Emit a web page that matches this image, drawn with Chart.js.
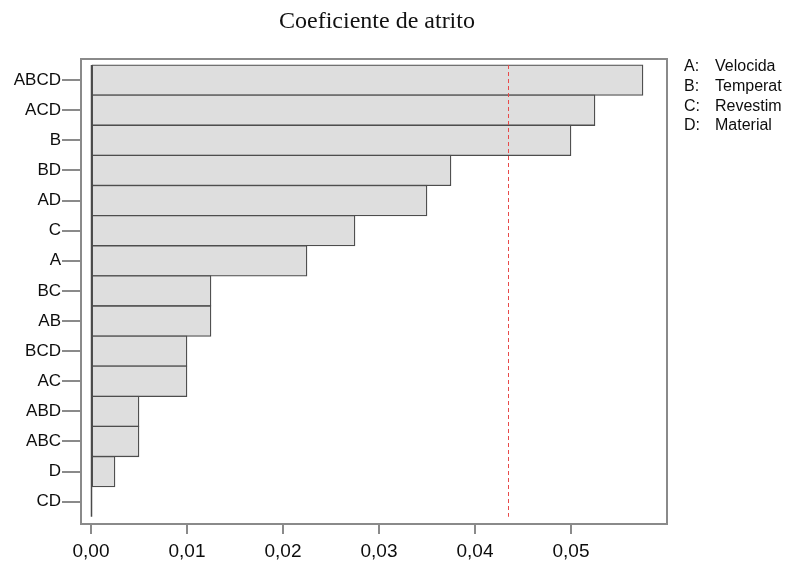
<!DOCTYPE html>
<html>
<head>
<meta charset="utf-8">
<script src="https://cdn.jsdelivr.net/npm/chart.js@4/dist/chart.umd.min.js"></script>
<style>
  html, body { margin: 0; padding: 0; background: #ffffff; }
  #wrap { width: 798px; height: 563px; position: relative; }
</style>
</head>
<body>
<div id="wrap"><canvas id="c" width="798" height="563"></canvas></div>
<script>
// Pareto of standardized effects on the friction coefficient
const titleText = 'Coeficiente de atrito';
const effects = ['ABCD', 'ACD', 'B', 'BD', 'AD', 'C', 'A', 'BC', 'AB', 'BCD', 'AC', 'ABD', 'ABC', 'D', 'CD'];
const effectValues = [0.0575, 0.0525, 0.0500, 0.0375, 0.0350, 0.0275, 0.0225, 0.0125, 0.0125, 0.0100, 0.0100, 0.0050, 0.0050, 0.0025, 0.0000];
const xTickValues = [0, 0.01, 0.02, 0.03, 0.04, 0.05];
const referenceLine = 0.0434;
const factorKeys = ['A:', 'B:', 'C:', 'D:'];
const factorNames = ['Velocida', 'Temperat', 'Revestim', 'Material'];

const FRAME = '#8a8a8a';

// Frame, zero line, reference line, title and factor key
const decorations = {
  id: 'decorations',
  beforeDatasetsDraw(chart) {
    const { ctx, chartArea: a } = chart;
    ctx.save();
    ctx.strokeStyle = FRAME;
    ctx.lineWidth = 2;
    ctx.strokeRect(a.left, a.top, a.right - a.left, a.bottom - a.top);
    ctx.restore();
  },
  afterDatasetsDraw(chart) {
    const { ctx, scales: { x, y } } = chart;
    const top = y.getPixelForValue(-0.5);
    const bottom = y.getPixelForValue(effects.length - 0.5);
    ctx.save();
    // zero baseline
    const x0 = Math.round(x.getPixelForValue(0)) + 0.5;
    ctx.strokeStyle = '#4a4a4a';
    ctx.lineWidth = 1.5;
    ctx.beginPath();
    ctx.moveTo(x0, top);
    ctx.lineTo(x0, bottom);
    ctx.stroke();
    // significance reference line
    const xr = Math.round(x.getPixelForValue(referenceLine)) + 0.5;
    ctx.strokeStyle = '#e84a4a';
    ctx.lineWidth = 1;
    ctx.setLineDash([4, 3]);
    ctx.beginPath();
    ctx.moveTo(xr, top);
    ctx.lineTo(xr, bottom);
    ctx.stroke();
    ctx.setLineDash([]);
    // title
    ctx.fillStyle = '#111111';
    ctx.font = '24px "Liberation Serif", "Times New Roman", serif';
    ctx.textAlign = 'center';
    ctx.textBaseline = 'middle';
    ctx.fillText(titleText, 377, 22);
    // factor key
    ctx.fillStyle = '#0d0d0d';
    ctx.font = '16px "Liberation Sans", Arial, sans-serif';
    ctx.textAlign = 'left';
    for (let i = 0; i < factorKeys.length; i++) {
      const yy = 67 + i * 19.6;
      ctx.fillText(factorKeys[i], 684, yy);
      ctx.fillText(factorNames[i], 715, yy);
    }
    ctx.restore();
  }
};

new Chart(document.getElementById('c'), {
  type: 'bar',
  data: {
    datasets: [{
      data: effectValues.map((v, i) => ({ x: v, y: i })),
      backgroundColor: '#dedede',
      borderColor: '#4d4d4d',
      borderWidth: 1.3,
      borderSkipped: false,
      barThickness: 30.7
    }]
  },
  options: {
    indexAxis: 'y',
    responsive: false,
    animation: false,
    devicePixelRatio: 1,
    layout: { padding: { left: 0, right: 131, top: 59, bottom: 0 } },
    plugins: { legend: { display: false }, title: { display: false }, tooltip: { enabled: false } },
    scales: {
      x: {
        type: 'linear',
        min: -10 / 9600,
        max: 0.06,
        afterBuildTicks(scale) { scale.ticks = xTickValues.map(v => ({ value: v })); },
        afterFit(scale) { scale.height = 39; },
        border: { display: false },
        grid: { drawOnChartArea: false, drawTicks: true, tickLength: 10, color: FRAME, lineWidth: 2 },
        ticks: {
          padding: 6,
          color: '#0d0d0d',
          font: { family: '"Liberation Sans", Arial, sans-serif', size: 19 },
          maxRotation: 0,
          callback: (v) => Number(v).toFixed(2).replace('.', ',')
        }
      },
      y: {
        type: 'linear',
        reverse: true,
        offset: false,
        min: -0.7,
        max: 14.74,
        afterBuildTicks(scale) { scale.ticks = effects.map((_, i) => ({ value: i })); },
        afterFit(scale) { scale.width = 81; },
        border: { display: false },
        grid: { offset: false, drawOnChartArea: false, drawTicks: true, tickLength: 19, color: FRAME, lineWidth: 2 },
        ticks: {
          padding: 1,
          color: '#0d0d0d',
          font: { family: '"Liberation Sans", Arial, sans-serif', size: 17 },
          callback: (v) => effects[v] ?? ''
        }
      }
    }
  },
  plugins: [decorations]
});
</script>
</body>
</html>
